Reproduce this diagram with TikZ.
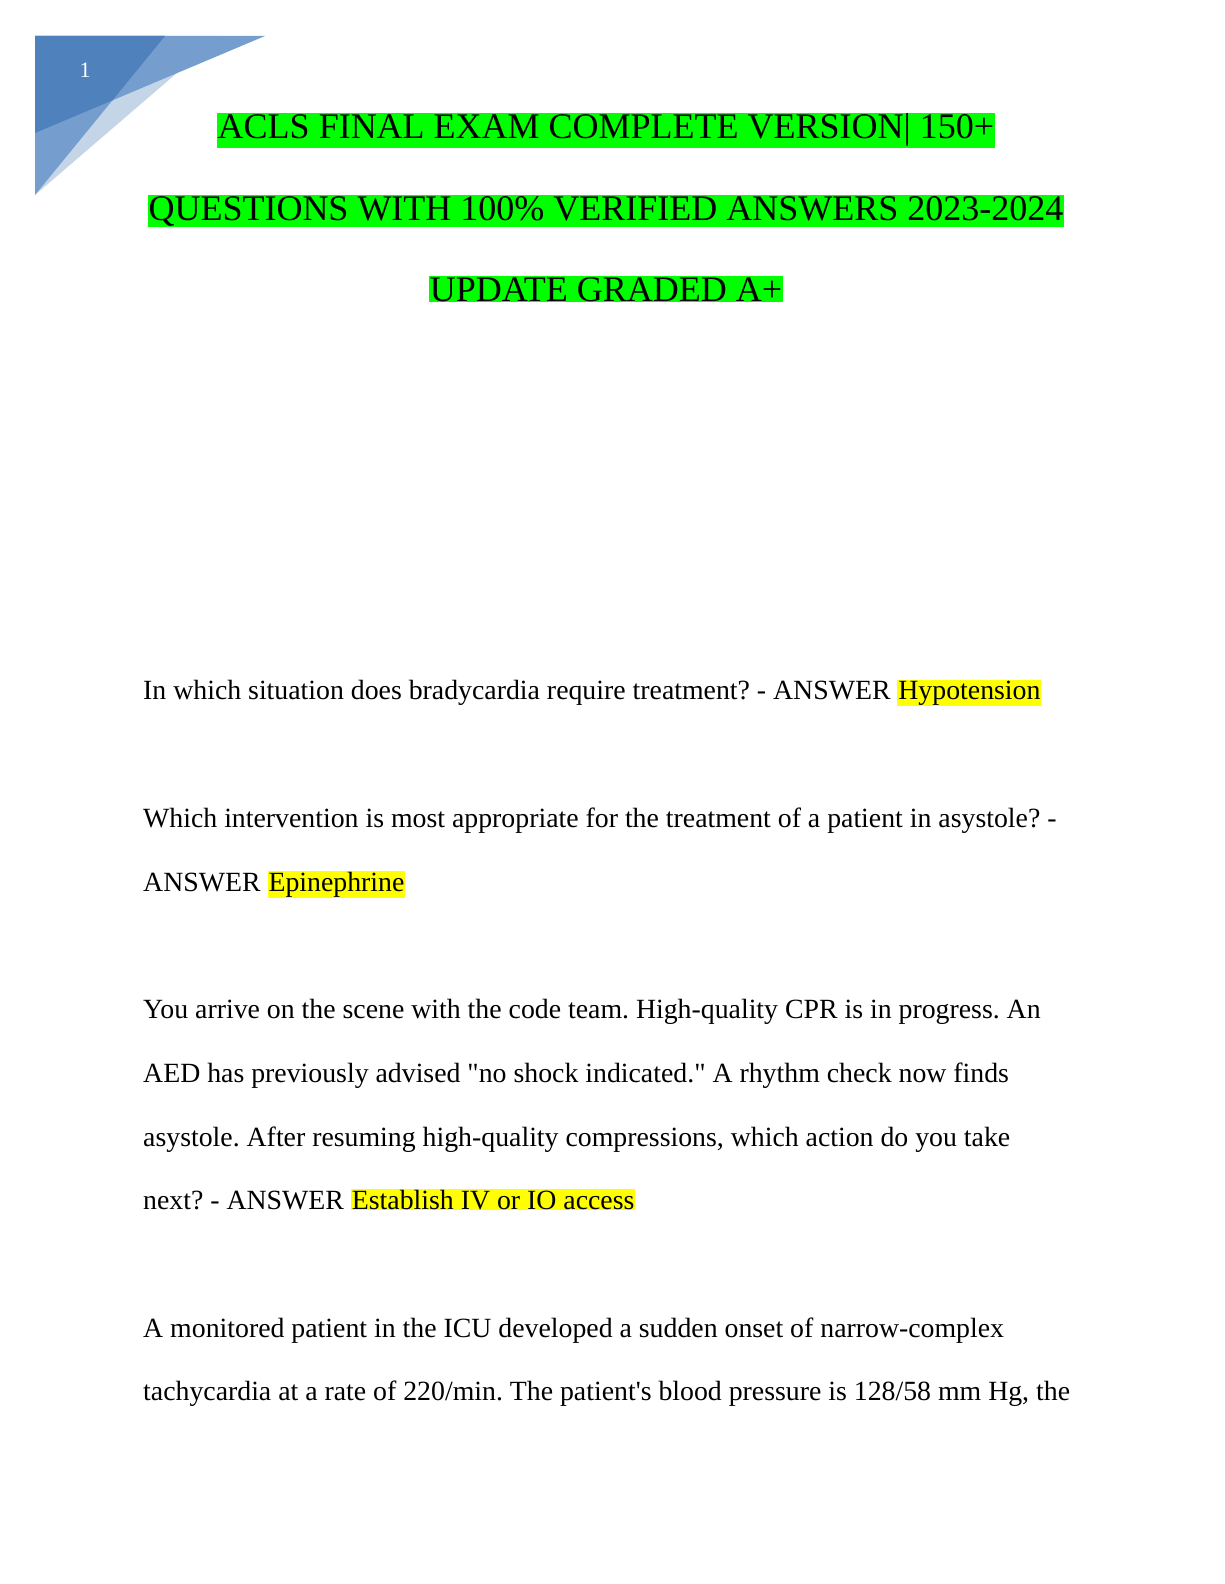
\documentclass[tikz,border=0pt]{standalone}
\usepackage{fontspec}
\defaultfontfeatures[\rmfamily]{}
\setmainfont{Liberation Serif}
\definecolor{hl}{RGB}{255,255,0}
\definecolor{gr}{RGB}{0,255,0}
\definecolor{dk}{RGB}{79,129,189}
\definecolor{md}{RGB}{117,158,206}
\definecolor{lt}{RGB}{197,213,232}
\begin{document}
\frenchspacing
\begin{tikzpicture}[x=1pt,y=-1pt,
 title/.style={font=\fontsize{36}{42}\selectfont,fill=gr,inner sep=1pt,anchor=base},
 body/.style={font=\fontsize{27.8}{32}\selectfont,anchor=base west,inner sep=0pt},
 ans/.style={anchor=base,inner sep=1pt,fill=hl}]
\useasboundingbox (0,0) rectangle (1224,1584);
\fill[lt] (35,36)--(220,36)--(35,195)--cycle;
\fill[md] (35,36)--(265,36)--(35,133)--cycle;
\fill[md] (35,36)--(165,36)--(35,195)--cycle;
\fill[dk] (35,36)--(165,36)--(112.4,100.4)--(35,133)--cycle;
\node[font=\fontsize{22}{26}\selectfont,text=white,anchor=base] (pg) at (85,78) {1};
\node[title] (t1) at (606,139) {ACLS FINAL EXAM COMPLETE VERSION| 150+};
\node[title] (t2) at (606,220) {QUESTIONS WITH 100\% VERIFIED ANSWERS 2023-2024};
\node[title] (t3) at (606,301) {UPDATE GRADED A+};
\node[body] (l1) at (143,699) {In which situation does bradycardia require treatment? - ANSWER \tikz[baseline]\node[ans]{Hypotension};};
\node[body] (l2) at (143,827) {Which intervention is most appropriate for the treatment of a patient in asystole? -};
\node[body] (l3) at (143,891) {ANSWER \tikz[baseline]\node[ans]{Epinephrine};};
\node[body] (l4) at (143,1018) {You arrive on the scene with the code team. High-quality CPR is in progress. An};
\node[body] (l5) at (143,1082) {AED has previously advised "no shock indicated." A rhythm check now finds};
\node[body] (l6) at (143,1146) {asystole. After resuming high-quality compressions, which action do you take};
\node[body] (l7) at (143,1209) {next? - ANSWER \tikz[baseline]\node[ans]{Establish IV or IO access};};
\node[body] (l8) at (143,1337) {A monitored patient in the ICU developed a sudden onset of narrow-complex};
\node[body] (l9) at (143,1400) {tachycardia at a rate of 220/min. The patient's blood pressure is 128/58 mm Hg, the};
\end{tikzpicture}
\end{document}
